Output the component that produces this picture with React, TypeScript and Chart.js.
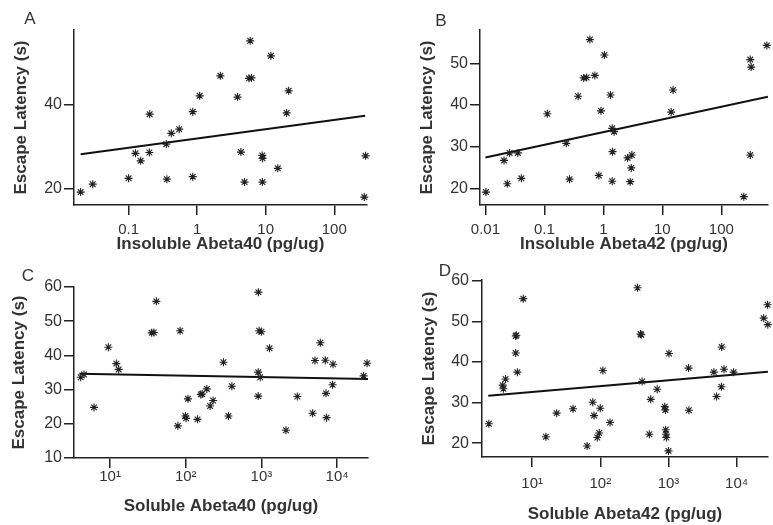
import React, { useEffect, useRef } from "react";
import { Chart, registerables } from "chart.js";

Chart.register(...registerables);

// ---------- Panel A: Insoluble Abeta40 ----------
const aX = [0.02, 0.03, 0.1, 0.203, 0.126, 0.15, 0.201, 0.355, 0.42, 0.548, 0.362, 0.863, 0.863, 1.09, 2.18, 5.94, 11.9, 5.7, 6.2, 3.88, 21.6, 20.2, 4.35, 8.9, 9.0, 15, 4.91, 8.96, 286, 274];
const aY = [19.1, 21.0, 22.4, 37.8, 28.4, 26.6, 28.6, 30.6, 33.2, 34.2, 22.2, 22.8, 38.4, 42.2, 47.0, 55.4, 51.8, 46.4, 46.5, 41.9, 43.4, 38.1, 28.7, 27.9, 27.2, 24.8, 21.5, 21.5, 27.8, 17.9];
const aFitX = [0.02, 282];
const aFitY = [28.2, 37.4];

// ---------- Panel B: Insoluble Abeta42 ----------
const bX = [0.0102, 0.0235, 0.0207, 0.0257, 0.0355, 0.0407, 0.112, 0.235, 0.267, 0.373, 0.464, 0.52, 0.716, 0.59, 1.04, 0.91, 1.32, 1.41, 1.52, 1.43, 0.835, 1.41, 2.57, 3.04, 2.97, 2.85, 15.2, 14.1, 309, 320, 309, 240, 590];
const bY = [19.1, 21.1, 26.7, 28.5, 28.5, 22.4, 37.9, 30.8, 22.2, 42.1, 46.5, 46.6, 47.1, 55.7, 52.0, 38.6, 42.4, 34.4, 33.6, 28.8, 23.1, 21.7, 27.3, 28.0, 24.9, 21.6, 43.6, 38.3, 50.9, 49.1, 28.0, 18.0, 54.3];
const bFitX = [0.01, 615];
const bFitY = [27.4, 42.0];

// ---------- Panel C: Soluble Abeta40 ----------
const cX = [4.09, 4.53, 6.14, 9.5, 12.1, 13.0, 37.9, 35.5, 40.9, 84.3, 107, 78.7, 99, 101, 143, 158, 165, 190, 210, 230, 315, 407, 367, 912, 933, 1000, 1280, 908, 964, 908, 2110, 2980, 4750, 6000, 5100, 6980, 8830, 8720, 7130, 7260, 22400, 24900];
const cY = [33.6, 34.4, 24.8, 42.4, 37.6, 35.9, 46.7, 46.6, 55.8, 47.2, 27.3, 19.4, 22.3, 21.6, 21.3, 28.6, 28.7, 30.2, 25.2, 26.8, 38.0, 31.0, 22.3, 58.5, 47.2, 46.9, 42.1, 35.1, 33.6, 28.1, 18.1, 28.0, 23.1, 43.7, 38.5, 38.6, 37.4, 31.4, 28.9, 21.8, 34.0, 37.7];
const cFitX = [3.93, 25600];
const cFitY = [34.6, 33.1];

// ---------- Panel D: Soluble Abeta42 ----------
const dX = [2.32, 3.7, 3.79, 4.08, 5.87, 5.75, 5.75, 6.08, 7.41, 15.9, 22.9, 39.8, 77.4, 80.9, 99.8, 139, 96.4, 90.2, 64.1, 109, 351, 389, 398, 1016, 411, 683, 548, 880, 900, 524, 910, 920, 930, 1000, 1970, 1990, 4630, 6520, 6030, 5980, 5070, 9000, 24900, 28400, 28600];
const dY = [24.8, 34.3, 33.4, 35.8, 46.6, 46.4, 42.2, 37.5, 55.6, 21.6, 27.4, 28.5, 30.1, 26.8, 28.6, 25.1, 22.5, 21.4, 19.3, 37.9, 58.3, 46.9, 46.7, 42.1, 35.2, 33.3, 30.8, 29.0, 28.2, 22.2, 23.3, 22.2, 21.4, 18.1, 38.5, 28.1, 37.5, 38.2, 43.7, 33.9, 31.5, 37.5, 50.8, 54.1, 49.2];
const dFitX = [2.27, 28700];
const dFitY = [31.7, 37.6];

// ---------- ticks & labels ----------
const decTicksA = [0.1, 1, 10, 100];
const decLabelsA = ["0.1", "1", "10", "100"];
const decTicksB = [0.01, 0.1, 1, 10, 100];
const decLabelsB = ["0.01", "0.1", "1", "10", "100"];
const powTicks = [10, 100, 1000, 10000];
const powLabels = ["10\u00B9", "10\u00B2", "10\u00B3", "10\u2074"];
const yTicksA = [20, 40];
const yTicksB = [20, 30, 40, 50];
const yTicksC = [10, 20, 30, 40, 50, 60];
const yTicksD = [20, 30, 40, 50, 60];

const yTitle = "Escape Latency (s)";
const letters = ["A", "B", "C", "D"];
const xTitles = ["Insoluble Abeta40 (pg/ug)", "Insoluble Abeta42 (pg/ug)", "Soluble Abeta40 (pg/ug)", "Soluble Abeta42 (pg/ug)"];

const FONT = "'Liberation Sans', Arial, Helvetica, sans-serif";
const INK = "#222";
const TEXT = "#333";

type PanelCfg = {
  left: number; top: number; w: number; h: number;
  padTop: number; padRight: number; yWidth: number; xHeight: number;
  xMin: number; xMax: number; yMin: number; yMax: number;
  xs: number[]; ys: number[]; fitX: number[]; fitY: number[];
  xTicks: number[]; xLabels: string[]; yTicks: number[];
  xTitle: string; yTitlePad: number; xTitlePad: number;
  xTickPad: number; yTickPad: number;
};

const panels: PanelCfg[] = [
  {
    left: 0, top: 0, w: 386, h: 258, padTop: 30, padRight: 19, yWidth: 74, xHeight: 53,
    xMin: 0.016, xMax: 300, yMin: 16, yMax: 58,
    xs: aX, ys: aY, fitX: aFitX, fitY: aFitY,
    xTicks: decTicksA, xLabels: decLabelsA, yTicks: yTicksA,
    xTitle: xTitles[0], yTitlePad: 11.6, xTitlePad: 3, xTickPad: 6, yTickPad: 2,
  },
  {
    left: 386, top: 0, w: 387, h: 258, padTop: 30, padRight: 0, yWidth: 94, xHeight: 53,
    xMin: 0.0081, xMax: 615, yMin: 16, yMax: 58,
    xs: bX, ys: bY, fitX: bFitX, fitY: bFitY,
    xTicks: decTicksB, xLabels: decLabelsB, yTicks: yTicksB,
    xTitle: xTitles[1], yTitlePad: 31.6, xTitlePad: 3, xTickPad: 6, yTickPad: 2,
  },
  {
    left: 0, top: 258, w: 386, h: 267, padTop: 29, padRight: 18, yWidth: 74, xHeight: 67,
    xMin: 3.34, xMax: 25600, yMin: 10, yMax: 60,
    xs: cX, ys: cY, fitX: cFitX, fitY: cFitY,
    xTicks: powTicks, xLabels: powLabels, yTicks: yTicksC,
    xTitle: xTitles[2], yTitlePad: 9.6, xTitlePad: 8, xTickPad: 0, yTickPad: 2,
  },
  {
    left: 386, top: 258, w: 387, h: 267, padTop: 22, padRight: 0, yWidth: 96, xHeight: 68,
    xMin: 1.84, xMax: 28700, yMin: 16.6, yMax: 60.2,
    xs: dX, ys: dY, fitX: dFitX, fitY: dFitY,
    xTicks: powTicks, xLabels: powLabels, yTicks: yTicksD,
    xTitle: xTitles[3], yTitlePad: 33.6, xTitlePad: 0, xTickPad: 8, yTickPad: 3,
  },
];

const letterPos = [
  { x: 30, y: 18 },
  { x: 441, y: 20 },
  { x: 28, y: 275 },
  { x: 445, y: 270 },
];

function Panel({ cfg }: { cfg: PanelCfg }) {
  const ref = useRef<HTMLCanvasElement | null>(null);
  useEffect(() => {
    if (!ref.current) return;
    const gridOpts = {
      display: true,
      drawOnChartArea: false,
      drawTicks: true,
      tickLength: 10,
      color: INK,
      lineWidth: 1.5,
    };
    const chart = new Chart(ref.current, {
      type: "scatter",
      data: {
        datasets: [
          {
            type: "scatter",
            data: cfg.xs.map((x, i) => ({ x, y: cfg.ys[i] })),
            pointStyle: "star",
            pointRadius: 4,
            borderColor: INK,
            backgroundColor: INK,
            borderWidth: 1.1,
            clip: false,
          } as any,
          {
            type: "line",
            data: cfg.fitX.map((x, i) => ({ x, y: cfg.fitY[i] })),
            borderColor: "#111",
            borderWidth: 2,
            pointRadius: 0,
            fill: false,
            tension: 0,
          } as any,
        ],
      },
      options: {
        responsive: false,
        animation: false,
        events: [],
        layout: { padding: { left: 0, top: cfg.padTop, right: cfg.padRight, bottom: 0 } },
        plugins: { legend: { display: false }, tooltip: { enabled: false }, title: { display: false } },
        scales: {
          x: {
            type: "logarithmic",
            position: "bottom",
            min: cfg.xMin,
            max: cfg.xMax,
            afterBuildTicks: (s: any) => {
              s.ticks = cfg.xTicks.map((v) => ({ value: v }));
            },
            afterFit: (s: any) => {
              s.height = cfg.xHeight;
            },
            ticks: {
              autoSkip: false,
              maxRotation: 0,
              padding: cfg.xTickPad,
              color: TEXT,
              font: { family: FONT, size: 15 },
              callback: (_v: any, i: number) => cfg.xLabels[i],
            },
            grid: gridOpts,
            border: { display: true, color: INK, width: 1.5 },
            title: {
              display: true,
              text: cfg.xTitle,
              color: TEXT,
              font: { family: FONT, size: 17, weight: "bold" },
              padding: { top: 0, bottom: cfg.xTitlePad },
            },
          },
          y: {
            type: "linear",
            min: cfg.yMin,
            max: cfg.yMax,
            afterBuildTicks: (s: any) => {
              s.ticks = cfg.yTicks.map((v) => ({ value: v }));
            },
            afterFit: (s: any) => {
              s.width = cfg.yWidth;
            },
            ticks: {
              autoSkip: false,
              padding: cfg.yTickPad,
              color: TEXT,
              font: { family: FONT, size: 16 },
              callback: (v: any) => String(v),
            },
            grid: gridOpts,
            border: { display: true, color: INK, width: 1.5 },
            title: {
              display: true,
              text: yTitle,
              color: TEXT,
              font: { family: FONT, size: 17, weight: "bold" },
              padding: { top: cfg.yTitlePad, bottom: 0 },
            },
          },
        },
      } as any,
    });
    return () => chart.destroy();
  }, [cfg]);
  return (
    <canvas
      ref={ref}
      width={cfg.w}
      height={cfg.h}
      style={{ position: "absolute", left: cfg.left, top: cfg.top, width: cfg.w, height: cfg.h }}
    />
  );
}

export default function App() {
  return (
    <div
      style={{
        position: "fixed",
        left: 0,
        top: 0,
        width: 773,
        height: 525,
        overflow: "hidden",
        background: "#fff",
      }}
    >
      {panels.map((p, i) => (
        <Panel key={i} cfg={p} />
      ))}
      {letters.map((l, i) => (
        <div
          key={l}
          style={{
            position: "absolute",
            left: letterPos[i].x,
            top: letterPos[i].y,
            transform: "translate(-50%, -50%)",
            fontFamily: FONT,
            fontSize: 17,
            lineHeight: 1,
            color: TEXT,
          }}
        >
          {l}
        </div>
      ))}
    </div>
  );
}
